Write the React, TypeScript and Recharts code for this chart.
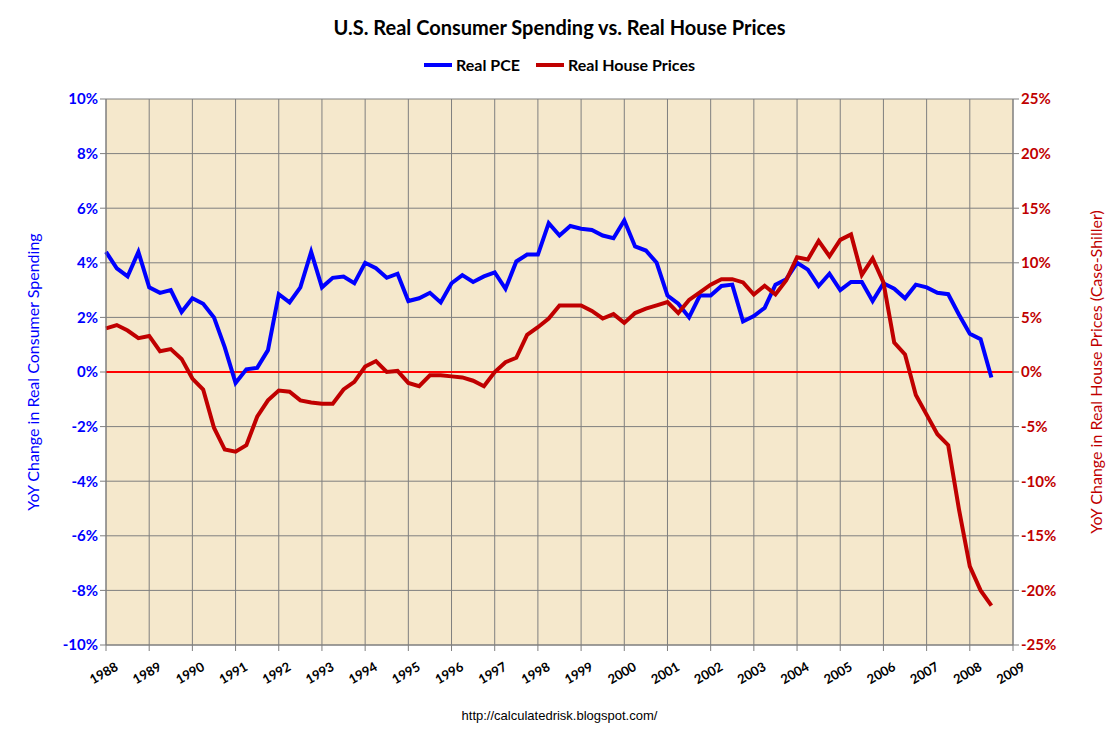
import React from 'react';
import {
  LineChart,
  Line,
  XAxis,
  YAxis,
  CartesianGrid,
  ReferenceLine,
} from 'recharts';

// Quarterly, starting Q1 1988
const realPCE = [
  4.4, 3.8, 3.5, 4.4, 3.1, 2.9, 3.0, 2.2, 2.7, 2.5, 2.0, 0.9, -0.4, 0.1, 0.15, 0.8,
  2.85, 2.55, 3.1, 4.4, 3.1, 3.45, 3.5, 3.25, 4.0, 3.8, 3.45, 3.6, 2.6, 2.7, 2.9, 2.55,
  3.25, 3.55, 3.3, 3.5, 3.65, 3.05, 4.05, 4.3, 4.3, 5.45, 5.0, 5.35, 5.25, 5.2, 5.0, 4.9,
  5.55, 4.6, 4.45, 4.0, 2.8, 2.5, 2.0, 2.8, 2.8, 3.15, 3.2, 1.85, 2.05, 2.35, 3.2, 3.4,
  4.0, 3.75, 3.15, 3.6, 3.0, 3.3, 3.3, 2.6, 3.25, 3.05, 2.7, 3.2, 3.1, 2.9, 2.85, 2.1,
  1.4, 1.2, -0.2,
];
const realHousePrices = [
  4.0, 4.3, 3.8, 3.1, 3.3, 1.9, 2.1, 1.2, -0.6, -1.6, -5.1, -7.1, -7.3, -6.7, -4.1, -2.6,
  -1.7, -1.8, -2.6, -2.8, -2.9, -2.9, -1.6, -0.9, 0.5, 1.0, 0.0, 0.1, -1.0, -1.3, -0.3, -0.3,
  -0.4, -0.5, -0.8, -1.3, 0.0, 0.9, 1.3, 3.4, 4.1, 4.9, 6.1, 6.1, 6.1, 5.6, 4.9, 5.3,
  4.5, 5.4, 5.8, 6.1, 6.4, 5.4, 6.6, 7.3, 8.0, 8.5, 8.5, 8.2, 7.1, 7.9, 7.1, 8.4,
  10.5, 10.3, 12.0, 10.6, 12.1, 12.6, 8.9, 10.4, 8.2, 2.7, 1.6, -2.1, -3.9, -5.7, -6.7, -12.6,
  -17.8, -20.0, -21.4,
];
const years = Array.from({ length: 22 }, (_, i) => 1988 + i);
const leftTicks = [-10, -8, -6, -4, -2, 0, 2, 4, 6, 8, 10];
const rightTicks = [-25, -20, -15, -10, -5, 0, 5, 10, 15, 20, 25];

const data = realPCE.map((v, i) => ({ q: i, pce: v, house: realHousePrices[i] }));

const FONT = 'Lato, "Open Sans", sans-serif';
const BLUE = '#0000ff';
const RED = '#c00000';

const YearTick = (props: any) => {
  const { x, y, payload } = props;
  const ty = y + 24;
  return (
    <text
      x={x}
      y={ty}
      transform={`rotate(-30 ${x} ${ty})`}
      textAnchor="middle"
      fontFamily={FONT}
      fontWeight="bold"
      fontSize={13}
      fill="#000"
    >
      {1988 + payload.value / 4}
    </text>
  );
};

export default function App() {
  return (
    <div style={{ position: 'absolute', left: 0, top: 0, width: 1119, height: 744, background: '#fff', fontFamily: FONT }}>
      <div style={{ position: 'absolute', top: 15, width: 1119, textAlign: 'center', fontSize: 20, fontWeight: 'bold' }}>
        U.S. Real Consumer Spending vs. Real House Prices
      </div>
      <div style={{ position: 'absolute', top: 55, width: 1119, display: 'flex', justifyContent: 'center', gap: 16, fontSize: 16, fontWeight: 'bold' }}>
        <span style={{ display: 'flex', alignItems: 'center' }}>
          <span style={{ display: 'inline-block', width: 28, height: 4, background: BLUE, marginRight: 4 }} />Real PCE
        </span>
        <span style={{ display: 'flex', alignItems: 'center' }}>
          <span style={{ display: 'inline-block', width: 28, height: 4, background: RED, marginRight: 4 }} />Real House Prices
        </span>
      </div>
      <div style={{ position: 'absolute', left: 32, top: 372, transform: 'translate(-50%,-50%) rotate(-90deg)', whiteSpace: 'nowrap', color: BLUE, fontSize: 16 }}>
        YoY Change in Real Consumer Spending
      </div>
      <div style={{ position: 'absolute', left: 1095, top: 372, transform: 'translate(-50%,-50%) rotate(-90deg)', whiteSpace: 'nowrap', color: RED, fontSize: 16 }}>
        YoY Change in Real House Prices (Case-Shiller)
      </div>
      <div style={{ position: 'absolute', top: 708, width: 1119, textAlign: 'center', fontSize: 13, fontFamily: 'Arial, sans-serif' }}>
        http://calculatedrisk.blogspot.com/
      </div>
      <LineChart width={1119} height={744} data={data} margin={{ top: 99, right: 6, bottom: 0, left: 6 }} style={{ position: 'absolute', left: 0, top: 0 }}>
        <CartesianGrid stroke="#7f7f7f" fill="#f5e8cc" fillOpacity={1} yAxisId="left" />
        <XAxis
          dataKey="q"
          type="number"
          domain={[0, 84]}
          ticks={years.map((y) => (y - 1988) * 4)}
          tick={<YearTick />}
          tickLine={{ stroke: '#7f7f7f' }}
          axisLine={{ stroke: '#7f7f7f' }}
          height={99}
          interval={0}
        />
        <YAxis
          yAxisId="left"
          domain={[-10, 10]}
          ticks={leftTicks}
          tickFormatter={(v) => `${v}%`}
          tick={{ fill: BLUE, fontWeight: 'bold', fontSize: 15, fontFamily: FONT }}
          tickLine={{ stroke: '#7f7f7f' }}
          axisLine={{ stroke: '#7f7f7f' }}
          width={100}
          interval={0}
        />
        <YAxis
          yAxisId="right"
          orientation="right"
          domain={[-25, 25]}
          ticks={rightTicks}
          tickFormatter={(v) => `${v}%`}
          tick={{ fill: RED, fontWeight: 'bold', fontSize: 15, fontFamily: FONT }}
          tickLine={{ stroke: '#7f7f7f' }}
          axisLine={{ stroke: '#7f7f7f' }}
          width={100}
          interval={0}
        />
        <ReferenceLine yAxisId="left" y={0} stroke="#ff0000" strokeWidth={2} />
        <Line yAxisId="left" type="linear" dataKey="pce" stroke={BLUE} strokeWidth={4} dot={false} isAnimationActive={false} />
        <Line yAxisId="right" type="linear" dataKey="house" stroke={RED} strokeWidth={4} dot={false} isAnimationActive={false} />
      </LineChart>
    </div>
  );
}
